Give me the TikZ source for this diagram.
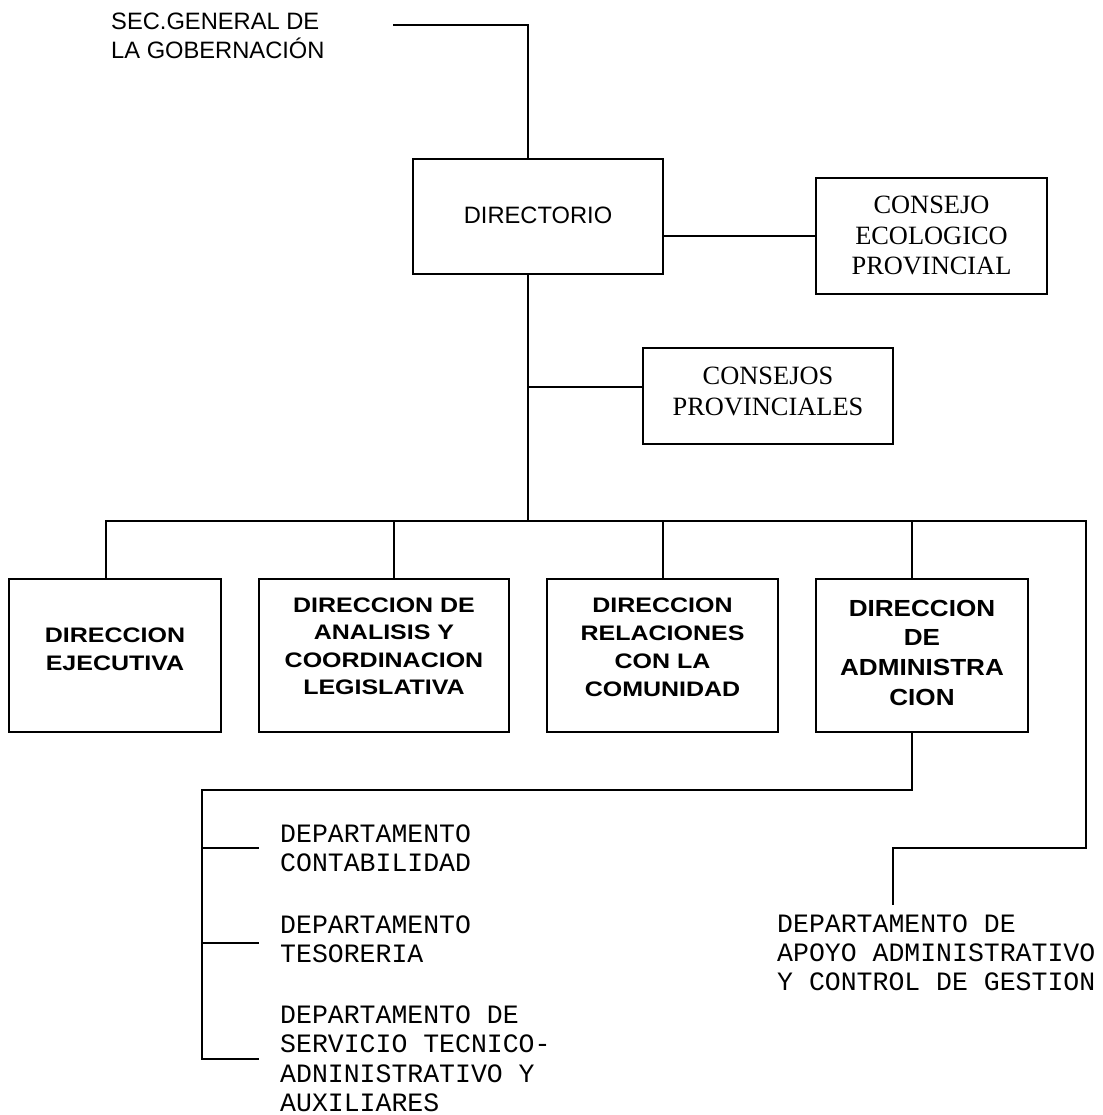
\documentclass[tikz,border=0pt]{standalone}
\usepackage{fontspec}
\setmainfont{Liberation Sans}
\newfontfamily\secfont{Liberation Sans}
\newfontfamily\boxfont[FakeStretch=1.19]{Liberation Sans}
\newfontfamily\boxfontb[FakeStretch=1.12]{Liberation Sans}
\newfontfamily\serfont{Liberation Serif}
\newfontfamily\deptfont{Liberation Mono}
\newcommand\mlines[2]{\begin{tabular}[t]{@{}#1@{}}#2\end{tabular}}
\begin{document}
\begin{tikzpicture}[x=1pt,y=-1pt,
  conn/.style={line width=1.5pt},
  orgbox/.style={draw, line width=1.6pt, inner sep=0pt},
  txt/.style={inner sep=0pt, anchor=base west}]
\useasboundingbox (0,0) rectangle (1102,1115);

% top
\node[txt] (sec) at (111,30) {\secfont\fontsize{23.7}{28}\selectfont\mlines{l}{SEC.GENERAL DE\\LA GOBERNACIÓN}};
\node[orgbox, minimum width=250pt, minimum height=115pt, text height=20pt, text depth=7pt] (dir) at (538,216.5)
  {\secfont\fontsize{23.7}{28}\selectfont DIRECTORIO};
\node[orgbox, minimum width=231pt, minimum height=116pt, text height=20pt, text depth=64pt] (eco) at (931.5,236)
  {\serfont\fontsize{26.4}{30.5}\selectfont\mlines{c}{CONSEJO\\ECOLOGICO\\PROVINCIAL}};
\node[orgbox, minimum width=250pt, minimum height=96pt, text height=20pt, text depth=44pt] (prov) at (768,396)
  {\serfont\fontsize{26.4}{31}\selectfont\mlines{c}{CONSEJOS\\PROVINCIALES}};

% direcciones
\node[orgbox, minimum width=212pt, minimum height=153pt, text height=20pt, text depth=47pt] (b1) at (115,655.5)
  {\boxfont\bfseries\fontsize{21}{28}\selectfont\mlines{c}{DIRECCION\\EJECUTIVA}};
\node[orgbox, minimum width=250pt, minimum height=153pt, text height=20pt, text depth=107pt] (b2) at (384,655.5)
  {\boxfont\bfseries\fontsize{21}{27.5}\selectfont\mlines{c}{DIRECCION DE\\ANALISIS Y\\COORDINACION\\LEGISLATIVA}};
\node[orgbox, minimum width=231pt, minimum height=153pt, text height=20pt, text depth=107pt] (b3) at (662.5,655.5)
  {\boxfont\bfseries\fontsize{21}{28.3}\selectfont\mlines{c}{DIRECCION\\RELACIONES\\CON LA\\COMUNIDAD}};
\node[orgbox, minimum width=212pt, minimum height=153pt, text height=20pt, text depth=99pt] (b4) at (922,655.5)
  {\boxfontb\bfseries\fontsize{23.3}{29.7}\selectfont\mlines{c}{DIRECCION\\DE\\ADMINISTRA\\CION}};

% departamentos
\node[txt] (d1) at (280,842) {\deptfont\fontsize{26.5}{29.5}\selectfont\mlines{l}{DEPARTAMENTO\\CONTABILIDAD}};
\node[txt] (d2) at (280,933) {\deptfont\fontsize{26.5}{29.5}\selectfont\mlines{l}{DEPARTAMENTO\\TESORERIA}};
\node[txt] (d3) at (280,1023) {\deptfont\fontsize{26.5}{29.5}\selectfont\mlines{l}{DEPARTAMENTO DE\\SERVICIO TECNICO-\\ADNINISTRATIVO Y\\AUXILIARES}};
\node[txt] (apoyo) at (777,932) {\deptfont\fontsize{26.5}{29.2}\selectfont\mlines{l}{DEPARTAMENTO DE\\APOYO ADMINISTRATIVO\\Y CONTROL DE GESTION}};

% coordinates
\coordinate (secL) at (393,25);
\coordinate (secR) at (528,25);
\coordinate (jprov) at (528,387);
\coordinate (jbus) at (528,521);
\coordinate (busL) at (106,521);
\coordinate (j2) at (394,521);
\coordinate (j3) at (663,521);
\coordinate (j4) at (912,521);
\coordinate (busR) at (1086,521);
\coordinate (apR) at (1086,848);
\coordinate (apL) at (893,848);
\coordinate (apEnd) at (893,905);
\coordinate (adm1) at (912,790);
\coordinate (adm2) at (202,790);
\coordinate (t1) at (202,848);
\coordinate (t2) at (202,943);
\coordinate (t3) at (202,1059);
\coordinate (e1) at (259,848);
\coordinate (e2) at (259,943);
\coordinate (e3) at (259,1059);

% connectors
\draw[conn] (secL) -- (secR) -- (secR |- dir.north);
\draw[conn] (eco.west) -- (eco.west -| dir.east);
\draw[conn] (jbus |- dir.south) -- (jbus);
\draw[conn] (jprov) -- (jprov -| prov.west);
\draw[conn] (busL |- b1.north) -- (busL) -- (busR) -- (apR) -- (apL) -- (apEnd);
\draw[conn] (j2) -- (j2 |- b2.north);
\draw[conn] (j3) -- (j3 |- b3.north);
\draw[conn] (j4) -- (j4 |- b4.north);
\draw[conn] (adm1 |- b4.south) -- (adm1) -- (adm2) -- (t3) -- (e3);
\draw[conn] (t1) -- (e1);
\draw[conn] (t2) -- (e2);
\end{tikzpicture}
\end{document}
